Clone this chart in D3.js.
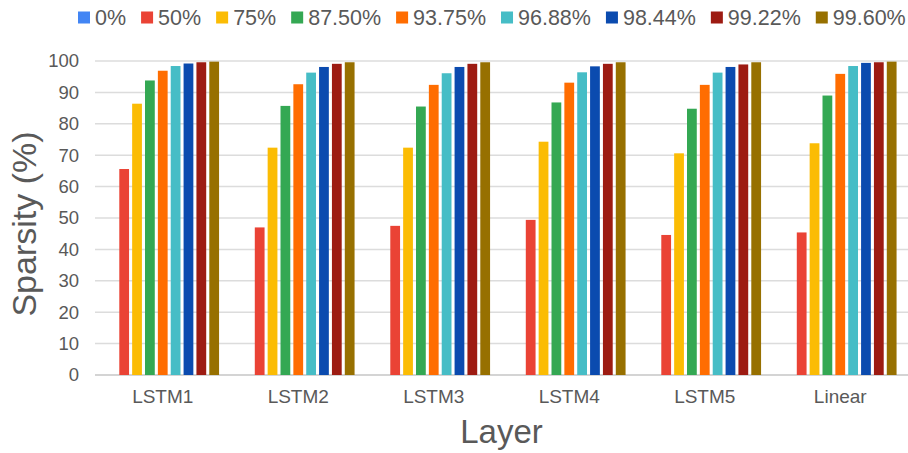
<!DOCTYPE html>
<html>
<head>
<meta charset="utf-8">
<script src="https://cdn.jsdelivr.net/npm/d3@7"></script>
<style>
  html, body { margin: 0; padding: 0; background: #ffffff; }
  svg { display: block; }
  text { font-family: Arial, "Liberation Sans", sans-serif; fill: #595959; }
</style>
</head>
<body>
<svg id="chart" width="908" height="453"></svg>
<script>
// Layers on the x axis
const layers = ["LSTM1", "LSTM2", "LSTM3", "LSTM4", "LSTM5", "Linear"];
// Target pruning levels (legend / series)
const levels = ["0%", "50%", "75%", "87.50%", "93.75%", "96.88%", "98.44%", "99.22%", "99.60%"];
const levelColors = ["#4285F4", "#EA4335", "#FBBC04", "#34A853", "#FF6D01", "#46BDC6", "#0B4BAF", "#9D1B12", "#977000"];

// Measured sparsity (%) per layer, one value per pruning level
const lstm1  = [0, 65.6, 86.4, 93.8, 96.9, 98.4, 99.2, 99.6, 99.8];
const lstm2  = [0, 47.0, 72.4, 85.7, 92.6, 96.3, 98.1, 99.1, 99.6];
const lstm3  = [0, 47.5, 72.4, 85.5, 92.4, 96.1, 98.1, 99.1, 99.6];
const lstm4  = [0, 49.4, 74.3, 86.8, 93.1, 96.4, 98.3, 99.1, 99.6];
const lstm5  = [0, 44.6, 70.6, 84.8, 92.4, 96.3, 98.1, 98.9, 99.6];
const linear = [0, 45.4, 73.8, 89.0, 95.9, 98.4, 99.4, 99.6, 99.8];
const yTicks = [0, 10, 20, 30, 40, 50, 60, 70, 80, 90, 100];

const layerValues = [lstm1, lstm2, lstm3, lstm4, lstm5, linear];
const rows = layers.map((name, i) => ({
  name,
  bars: levels.map((lv, j) => ({ level: lv, value: layerValues[i][j], color: levelColors[j] }))
}));

const svg = d3.select("#chart");
const plot = { left: 95, right: 908, top: 61, bottom: 375 };

const x0 = d3.scaleBand()
  .domain(layers)
  .range([plot.left, plot.right])
  .paddingInner(0.146)
  .paddingOuter(0.073);

const x1 = d3.scaleBand()
  .domain(levels)
  .range([0, x0.bandwidth()])
  .paddingInner(0.24)
  .paddingOuter(0.12);

const y = d3.scaleLinear().domain([0, 100]).range([plot.bottom, plot.top]);

// Horizontal gridlines
svg.append("g")
  .selectAll("line")
  .data(yTicks)
  .join("line")
  .attr("x1", plot.left)
  .attr("x2", plot.right)
  .attr("y1", d => y(d))
  .attr("y2", d => y(d))
  .attr("stroke", d => d === 0 ? "#d4d4d4" : "#dcdcdc")
  .attr("stroke-width", d => d === 0 ? 2 : 1.5);

// Y axis tick labels
const yAxis = d3.axisLeft(y).tickValues(yTicks).tickSize(0).tickPadding(0);
const yg = svg.append("g").attr("transform", `translate(${plot.left - 16},0)`).call(yAxis);
yg.select(".domain").remove();
yg.selectAll("text")
  .attr("font-size", 18.5)
  .attr("fill", "#595959")
  .attr("font-family", "Arial, 'Liberation Sans', sans-serif");

// Bars
const groups = svg.append("g")
  .selectAll("g")
  .data(rows)
  .join("g")
  .attr("transform", d => `translate(${x0(d.name)},0)`);

groups.selectAll("rect")
  .data(d => d.bars)
  .join("rect")
  .attr("x", d => x1(d.level))
  .attr("width", x1.bandwidth())
  .attr("y", d => y(d.value))
  .attr("height", d => y(0) - y(d.value))
  .attr("fill", d => d.color);

// X axis category labels
const xAxis = d3.axisBottom(x0).tickSize(0).tickPadding(0);
const xg = svg.append("g").attr("transform", `translate(0,${plot.bottom + 14})`).call(xAxis);
xg.select(".domain").remove();
xg.selectAll("text")
  .attr("font-size", 19)
  .attr("fill", "#595959")
  .attr("font-family", "Arial, 'Liberation Sans', sans-serif");

// Axis titles
svg.append("text")
  .attr("x", (plot.left + plot.right) / 2)
  .attr("y", 443)
  .attr("text-anchor", "middle")
  .attr("font-size", 33)
  .text("Layer");

svg.append("text")
  .attr("transform", "translate(36,224) rotate(-90)")
  .attr("text-anchor", "middle")
  .attr("font-size", 34)
  .text("Sparsity (%)");

// Legend across the top
const legend = svg.append("g");
let lx = 78;
levels.forEach((lv, i) => {
  legend.append("rect")
    .attr("x", lx)
    .attr("y", 11.5)
    .attr("width", 12)
    .attr("height", 12)
    .attr("fill", levelColors[i]);
  const t = legend.append("text")
    .attr("x", lx + 17)
    .attr("y", 24.5)
    .attr("font-size", 21.5)
    .text(lv);
  lx += 17 + t.node().getComputedTextLength() + 15;
});
</script>
</body>
</html>
